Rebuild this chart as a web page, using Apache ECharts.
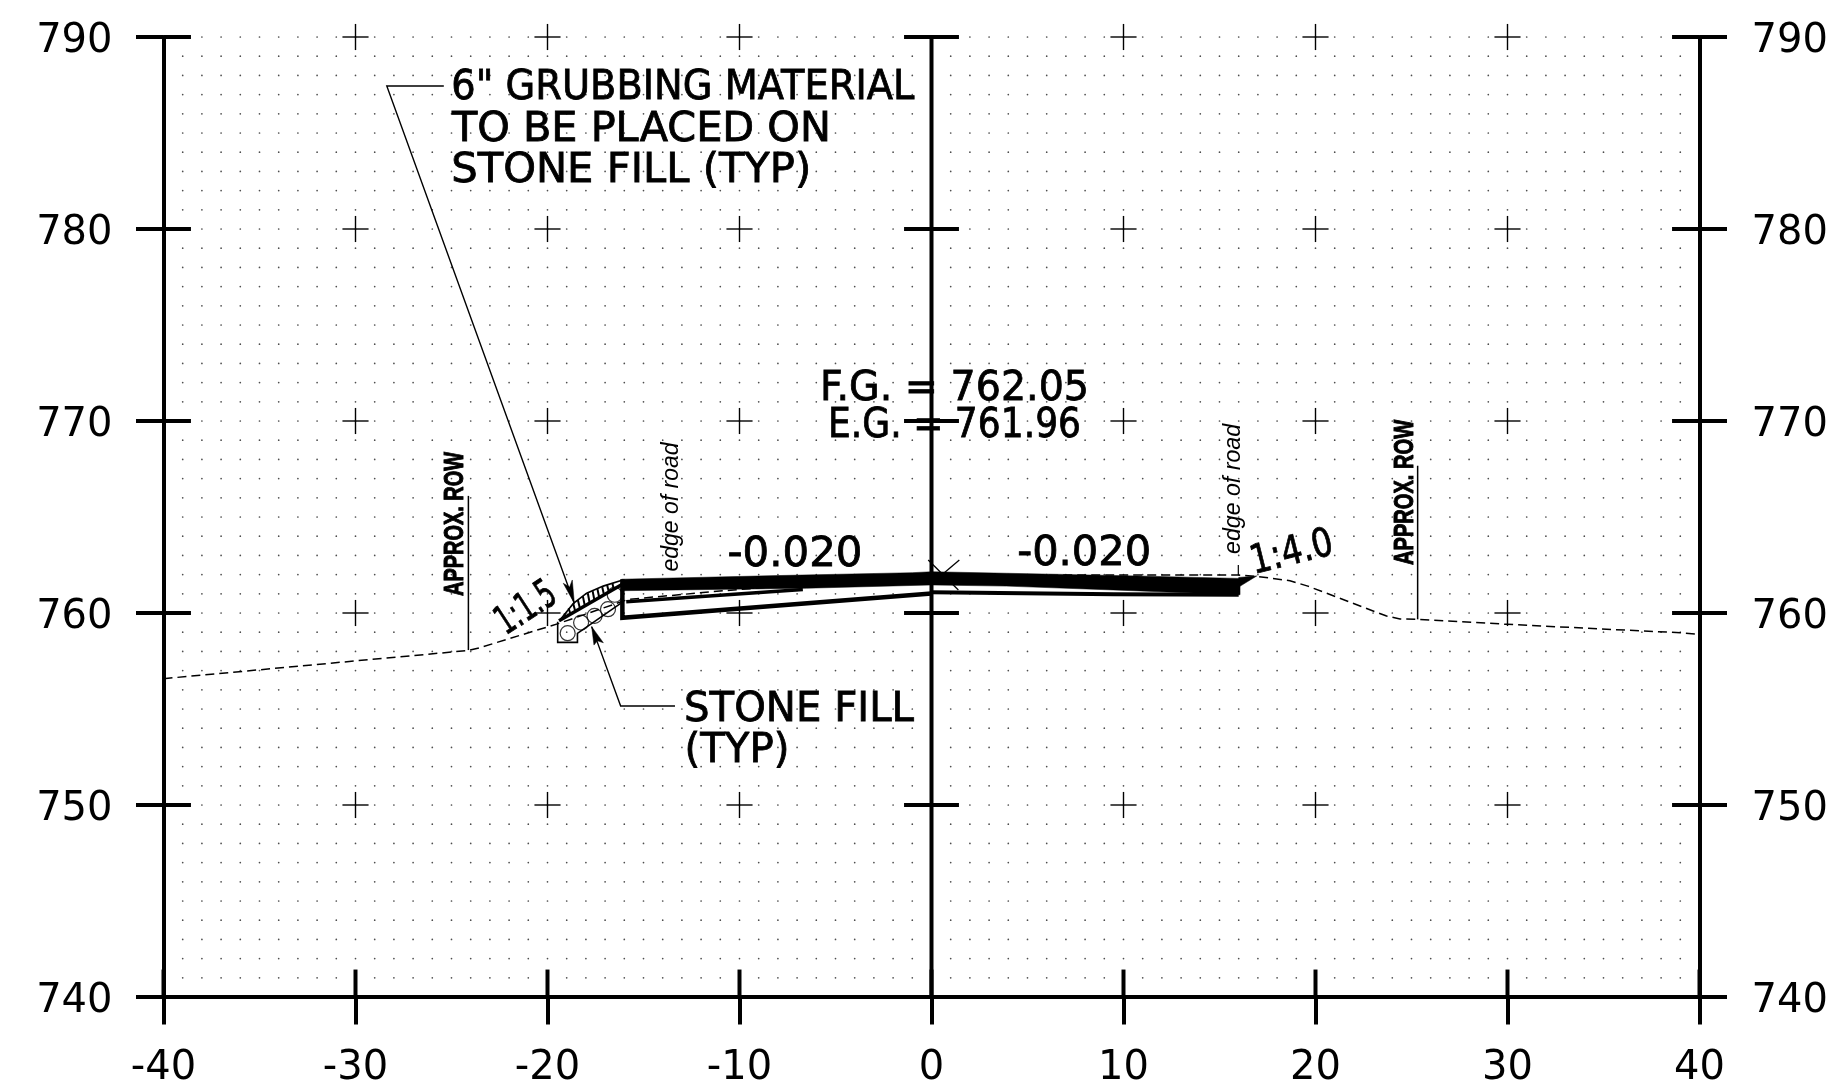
<!DOCTYPE html>
<html>
<head>
<meta charset="utf-8">
<style>html,body{margin:0;padding:0;background:#fff}#c{width:1833px;height:1092px}</style>
<script src="https://cdn.jsdelivr.net/npm/echarts@6/dist/echarts.min.js"></script>
</head>
<body>
<div id="c"></div>
<script>
// ---- axes ----
const xTicks = [-40,-30,-20,-10,0,10,20,30,40];
const yTicks = [740,750,760,770,780,790];
const xTickLabels = ['-40','-30','-20','-10','0','10','20','30','40'];
const yTickLabels = ['740','750','760','770','780','790'];

// ---- profile lines (offset, elevation) ----
const existingGround = [[-40,756.58],[-24.1,758.05],[-23.5,758.2],[-19.4,759.46],[-15.8,760.71],[-10.84,761.16],[-5,761.6],[0,761.96],[10.7,761.98],[15.96,761.98],[17,761.9],[18.67,761.68],[19.6,761.4],[23.7,759.84],[24.4,759.69],[25.35,759.67],[30,759.41],[39,758.97],[40,758.88]];
const roadBand = [[-16.14,761.76],[-8,761.95],[-1,762.1],[0,762.15],[3.9,762.07],[10.7,761.93],[16.07,761.8],[16.07,760.95],[9.46,761.2],[3.9,761.4],[0,761.46],[-6.5,761.29],[-16.14,761.16]];
const roadTip = [[16,761.85],[16.94,761.93],[16,761.35]];
const subgradeLeft = [[-16.1,761.76],[-16.1,759.75],[0,761.02]];
const subgradeRight = [[0,761.08],[9.5,760.98],[16,760.95]];
const baseMiddle = [[-15.9,760.59],[-6.7,761.23]];
const stoneOutline = [[-19.47,759.55],[-19.47,758.47],[-18.44,758.47],[-18.44,758.94],[-16.19,760.5]];
const slopeLine = [[-19.4,759.6],[-16.1,761.5]];
const grubbingCurve = [[-19.35,759.64],[-18.65,760.5],[-17.96,761.03],[-17.1,761.4],[-16.08,761.72]];
const grubbingHatch = [[-19.05,759.78,-19.12,759.98],[-18.8,759.93,-18.9,760.25],[-18.55,760.07,-18.66,760.5],[-18.3,760.2,-18.42,760.68],[-18.05,760.35,-18.16,760.88],[-17.8,760.5,-17.9,761.03],[-17.55,760.64,-17.65,761.14],[-17.3,760.78,-17.4,761.25],[-17.05,760.93,-17.15,761.35],[-16.8,761.08,-16.9,761.47],[-16.55,761.22,-16.62,761.56]];
const stones = [[-18.95,758.95],[-18.25,759.5],[-17.55,759.85],[-16.85,760.2],[-16.5,760.95]];

// ---- leaders ----
const leaderGrubbing = [[-25.4,787.45],[-28.37,787.45],[-18.6,760.5]];
const leaderStone = [[-13.36,755.16],[-16.19,755.16],[-17.7,759.29]];
const arrowGrubbing = [[-18.6,760.5],[-19.18,761.55],[-18.85,761.35],[-18.71,761.72]];
const arrowStone = [[-17.7,759.29],[-17.58,758.33],[-17.4,758.55],[-17.09,758.45]];
const rowLeft = [[-24.12,766.1],[-24.12,758.07]];
const rowRight = [[25.32,767.67],[25.32,759.67]];
const edgeTick = [[15.98,762.5],[15.98,761.98]];
const crossMark = [[-0.17,762.76,1.4,761.2],[1.45,762.76,0.53,761.98]];

// ---- annotations ----
const noteTexts = ['6" GRUBBING MATERIAL','TO BE PLACED ON','STONE FILL (TYP)','STONE FILL','(TYP)','F.G. = 762.05','E.G. = 761.96','-0.020','-0.020','1:1.5','1:4.0'];
const notePos = [[-12.95,787.53],[-15.11,785.34],[-15.64,783.2],[-6.9,755.16],[-10.13,753.02],[1.2,771.875],[1.2,769.92],[-7.11,763.23],[7.95,763.28],[-21.08,760.42],[18.78,763.32]];
const noteWidth = [463,379,360,230,105,269,253,135,134,64,84];
const noteAngle = [0,0,0,0,0,0,0,0,0,33,14];
const sideTexts = ['edge of road','edge of road','APPROX. ROW','APPROX. ROW'];
const sidePos = [[-13.57,765.52],[15.70,766.46],[-24.77,764.64],[24.71,766.28]];
const sideWidth = [129,130,144,145];

const INK = '#000';
const FAMILY = "'DejaVu Sans'";
const measureCtx = document.createElement('canvas').getContext('2d');
function fit(text, font, w){ measureCtx.font = font; return w / measureCtx.measureText(text).width; }

function polyline(name, pts, width, dash, z){
  return {type:'line', name, data:pts, showSymbol:false, silent:true, clip:false, animation:false, z:z||5,
    lineStyle:{color:INK, width, type:dash||'solid', cap:'butt', join:'miter'}};
}
function segments(name, segs, width, z){
  return {type:'custom', name, data:segs, silent:true, animation:false, z:z||5, clip:false,
    renderItem(p, api){
      const a = api.coord([api.value(0), api.value(1)]), b = api.coord([api.value(2), api.value(3)]);
      return {type:'line', shape:{x1:a[0],y1:a[1],x2:b[0],y2:b[1]}, style:{stroke:INK, lineWidth:width}};
    }};
}
function polygon(name, pts, z){
  return {type:'custom', name, data:[[pts[0][0],pts[0][1]]], silent:true, animation:false, z:z||6, clip:false,
    renderItem(p, api){
      return {type:'polygon', shape:{points:pts.map(q=>api.coord(q))}, style:{fill:INK, stroke:INK, lineWidth:0.5}};
    }};
}

// lattice of survey dots and the grid marks, from the tick arrays
const dots = [];
for (let x=-39; x<=39; x++) for (let y=741; y<=790; y++) dots.push([x,y]);
const innerX = xTicks.filter(v=>v>-40 && v<40 && v!==0);
const innerY = yTicks.filter(v=>v>740);
const plusSegs = [];
innerX.forEach(x=>innerY.forEach(y=>{
  plusSegs.push([x-0.68,y,x+0.68,y],[x,y-0.68,x,y+0.68]);
}));
const T = 1.43;
const heavySegs = [[0,740,0,790],[-40-T,740,-40,740],[40,740,40+T,740]];
yTicks.forEach(y=>{ heavySegs.push([-40,y,-40+T,y],[40-T,y,40,y],[-T,y,T,y]); });
xTicks.forEach(x=>{ heavySegs.push([x,740,x,740+T]); });

const noteFont = "40px "+FAMILY;
const noteItems = noteTexts.map((t,i)=>[notePos[i][0],notePos[i][1],i]);
const sideItems = sideTexts.map((t,i)=>[sidePos[i][0],sidePos[i][1],i]);
const sideFonts = ["italic 24px 'Liberation Sans'","italic 24px 'Liberation Sans'","bold 27px 'Liberation Sans'","bold 27px 'Liberation Sans'"];
const sideStroke = [0,0,1,1];

const chart = echarts.init(document.getElementById('c'), null, {renderer:'canvas', width:1833, height:1092});
const axisLine = {show:true, onZero:false, lineStyle:{color:INK, width:4}};
const axisTick = {show:true, length:27.5, lineStyle:{color:INK, width:4}};
const labelStyle = {color:INK, fontFamily:'DejaVu Sans', fontSize:40};
chart.setOption({
  animation:false,
  backgroundColor:'#fff',
  grid:{left:163.5, top:37, width:1536, height:960, containLabel:false},
  xAxis:{type:'value', min:-40, max:40, interval:10, axisLine, axisTick, splitLine:{show:false},
    axisLabel:{...labelStyle, margin:52, showMinLabel:true, showMaxLabel:true, hideOverlap:false,
      formatter:v=>xTickLabels[xTicks.indexOf(v)]}},
  yAxis:[
    {type:'value', position:'left', min:740, max:790, interval:10, axisLine, axisTick, splitLine:{show:false},
      axisLabel:{...labelStyle, margin:51, verticalAlign:'top', lineHeight:9, showMinLabel:true, showMaxLabel:true, hideOverlap:false,
        formatter:v=>yTickLabels[yTicks.indexOf(v)]}},
    {type:'value', position:'right', min:740, max:790, interval:10, axisLine, axisTick, splitLine:{show:false},
      axisLabel:{...labelStyle, margin:52, verticalAlign:'top', lineHeight:9, showMinLabel:true, showMaxLabel:true, hideOverlap:false,
        formatter:v=>yTickLabels[yTicks.indexOf(v)]}}
  ],
  series:[
    {type:'scatter', name:'dots', data:dots, symbolSize:1.7, silent:true, animation:false, z:1, clip:false,
      itemStyle:{color:'#222'}},
    segments('plus', plusSegs, 1.4, 2),
    segments('heavy', heavySegs, 4, 3),
    polyline('existing ground', existingGround, 1.5, [9,5], 4),
    polygon('road band', roadBand),
    polygon('road tip', roadTip),
    polyline('subgrade left', subgradeLeft, 4.5),
    polyline('subgrade right', subgradeRight, 4),
    polyline('base middle', baseMiddle, 3.5),
    polyline('stone outline', stoneOutline, 1.6),
    polyline('slope line', slopeLine, 3.5),
    polyline('grubbing curve', grubbingCurve, 1.6),
    segments('hatch', grubbingHatch, 2),
    {type:'scatter', name:'stones', data:stones, symbol:'circle', symbolSize:15, silent:true, animation:false, z:5, clip:false,
      itemStyle:{color:'rgba(0,0,0,0)', borderColor:INK, borderWidth:1.2}},
    polyline('leader grubbing', leaderGrubbing, 1.4),
    polyline('leader stone', leaderStone, 1.4),
    polygon('arrow grubbing', arrowGrubbing),
    polygon('arrow stone', arrowStone),
    polyline('row left', rowLeft, 1.5),
    polyline('row right', rowRight, 1.5),
    polyline('edge tick', edgeTick, 1.2),
    segments('cross', crossMark, 1.3),
    {type:'custom', name:'notes', data:noteItems, silent:true, animation:false, z:8, clip:false,
      renderItem(p, api){
        const i = api.value(2), c = api.coord([api.value(0), api.value(1)]), t = noteTexts[i];
        return {type:'text', x:c[0], y:c[1]+4.5, rotation:noteAngle[i]*Math.PI/180, scaleX:fit(t,noteFont,noteWidth[i]),
          style:{text:t, font:noteFont, fill:INK, stroke:INK, lineWidth:0.8, textAlign:'center', textVerticalAlign:'middle'}};
      }},
    {type:'custom', name:'side notes', data:sideItems, silent:true, animation:false, z:8, clip:false,
      renderItem(p, api){
        const i = api.value(2), c = api.coord([api.value(0), api.value(1)]), t = sideTexts[i];
        return {type:'text', x:c[0], y:c[1], rotation:Math.PI/2, scaleX:fit(t,sideFonts[i],sideWidth[i]),
          style:{text:t, font:sideFonts[i], fill:INK, stroke:INK, lineWidth:sideStroke[i], textAlign:'center', textVerticalAlign:'middle'}};
      }}
  ]
});
</script>
</body>
</html>
